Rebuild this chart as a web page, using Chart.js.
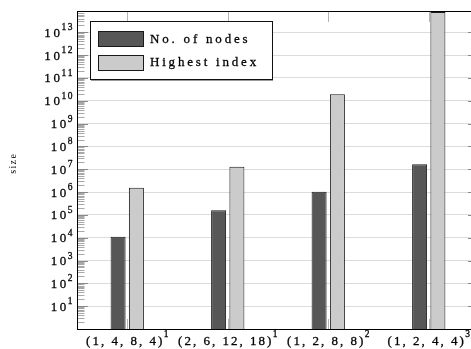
<!DOCTYPE html>
<html>
<head>
<meta charset="utf-8">
<script src="https://cdn.jsdelivr.net/npm/chart.js@4/dist/chart.umd.min.js"></script>
<style>
html,body{margin:0;padding:0;overflow:hidden;background:#fff;width:471px;height:349px}
#wrap{position:absolute;left:0;top:0;width:479px;height:349px}
</style>
</head>
<body>
<div id="wrap"><canvas id="c" width="479" height="349"></canvas></div>
<script>
// ---- data ----
const categories = ['(1, 4, 8, 4)', '(2, 6, 12, 18)', '(1, 2, 8, 8)', '(1, 2, 4, 4)'];
const categorySup = ['1', '1', '2', '3'];
const seriesNames = ['No. of nodes', 'Highest index'];
const nodes = [1.1e4, 1.6e5, 1.04e6, 1.65e7];
const highestIndex = [1.55e6, 1.3e7, 1.92e10, 7.8e13];
const yExponents = [1, 2, 3, 4, 5, 6, 7, 8, 9, 10, 11, 12, 13];
const yMin = 1;
const yMax = 7.8e13;
const yTitle = 'size';

const SERIF = '"Liberation Serif", "DejaVu Serif", serif';
const DARK = '#575757', LIGHT = '#cbcbcb', EDGE = '#1a1a1a';

function spacedWidth(ctx, s, sp) {
  let w = 0;
  for (const ch of s) w += ctx.measureText(ch).width + sp;
  return w - sp;
}
function spacedText(ctx, s, x, y, sp, align, bold) {
  const w = spacedWidth(ctx, s, sp);
  let cx = align === 'right' ? x - w : align === 'center' ? x - w / 2 : x;
  ctx.textAlign = 'left';
  ctx.strokeStyle = ctx.fillStyle;
  ctx.lineWidth = bold === undefined ? 0.28 : bold;
  for (const ch of s) {
    ctx.fillText(ch, cx, y);
    if (ctx.lineWidth > 0.01 && bold !== 0) ctx.strokeText(ch, cx, y);
    cx += ctx.measureText(ch).width + sp;
  }
  return w;
}

const decor = {
  id: 'decor',
  beforeDatasetsDraw(chart) {
    const {ctx, chartArea: a, scales: {x, y}} = chart;
    ctx.save();
    ctx.lineWidth = 1;
    // minor ticks
    ctx.strokeStyle = '#a8a8a8';
    ctx.beginPath();
    for (let e = 0; e <= 13; e++) {
      for (let k = 2; k <= 9; k++) {
        const v = k * Math.pow(10, e);
        if (v > yMax) break;
        const py = Math.round(y.getPixelForValue(v)) + 0.5;
        ctx.moveTo(a.left, py); ctx.lineTo(a.left + 7.5, py);
        ctx.moveTo(a.right, py); ctx.lineTo(a.right - 7.5, py);
      }
    }
    ctx.stroke();
    // major ticks
    ctx.strokeStyle = '#8a8a8a';
    ctx.beginPath();
    for (const e of yExponents) {
      const py = Math.round(y.getPixelForValue(Math.pow(10, e))) + 0.5;
      ctx.moveTo(a.left, py); ctx.lineTo(a.left + 11, py);
      ctx.moveTo(a.right, py); ctx.lineTo(a.right - 11, py);
    }
    ctx.stroke();
    // category ticks
    ctx.strokeStyle = '#b4b4b4';
    ctx.beginPath();
    categories.forEach((c, i) => {
      const px = Math.round(x.getPixelForValue(i)) + 0.5;
      ctx.moveTo(px, a.top); ctx.lineTo(px, a.top + 10);
      ctx.moveTo(px, a.bottom); ctx.lineTo(px, a.bottom - 10);
    });
    ctx.stroke();
    ctx.restore();
  },
  afterDatasetsDraw(chart) {
    const {ctx, chartArea: a, scales: {x, y}} = chart;
    ctx.save();
    // axis frame
    ctx.strokeStyle = '#000';
    ctx.lineWidth = 1;
    ctx.strokeRect(a.left + 0.5, a.top - 0.5, a.right - a.left - 1, a.bottom - a.top + 1);
    // y tick labels
    ctx.fillStyle = '#000';
    ctx.textBaseline = 'middle';
    for (const e of yExponents) {
      const py = y.getPixelForValue(Math.pow(10, e));
      ctx.font = '9.5px ' + SERIF;
      const ew = spacedText(ctx, String(e), 72.5, py - 4.5, 1.6, 'right');
      ctx.font = '13px ' + SERIF;
      spacedText(ctx, '10', 72.5 - ew - 1.5, py + 1, 2.6, 'right');
    }
    // x labels
    categories.forEach((c, i) => {
      const px = x.getPixelForValue(i);
      ctx.font = '13px ' + SERIF;
      const bw = spacedWidth(ctx, c, 2.0);
      ctx.font = '9.5px ' + SERIF;
      const sw = spacedWidth(ctx, categorySup[i], 0);
      const total = bw + 1.5 + sw;
      const x0 = px - total / 2;
      ctx.font = '13px ' + SERIF;
      spacedText(ctx, c, x0, 342, 2.0, 'left');
      ctx.font = '9.5px ' + SERIF;
      spacedText(ctx, categorySup[i], x0 + bw + 1.5, 334, 0, 'left');
    });
    // y title
    ctx.save();
    ctx.translate(13, 164);
    ctx.rotate(-Math.PI / 2);
    ctx.font = '10px ' + SERIF;
    spacedText(ctx, yTitle, 0, 0, 1.4, 'center', 0);
    ctx.restore();
    // legend
    ctx.fillStyle = '#fff';
    ctx.fillRect(90, 21, 182, 59);
    ctx.strokeStyle = '#9a9a9a';
    ctx.lineWidth = 1;
    ctx.beginPath(); ctx.moveTo(91, 80.5); ctx.lineTo(273, 80.5); ctx.stroke();
    ctx.strokeStyle = '#111';
    ctx.strokeRect(90.5, 21.5, 182, 58);
    const sw = [[DARK, 31.5], [LIGHT, 55.5]];
    sw.forEach(([col, top], i) => {
      ctx.fillStyle = col;
      ctx.lineWidth = 1;
      ctx.fillRect(98.5, top, 45, 15);
      ctx.strokeStyle = EDGE;
      ctx.strokeRect(98.5, top, 45, 15);
      ctx.fillStyle = '#000';
      ctx.font = '13px ' + SERIF;
      ctx.textBaseline = 'alphabetic';
      spacedText(ctx, seriesNames[i], 150, i === 0 ? 42.5 : 66, 2.8, 'left');
    });
    ctx.restore();
  }
};

new Chart(document.getElementById('c'), {
  type: 'bar',
  data: {
    labels: categories,
    datasets: [
      {label: seriesNames[0], data: nodes, backgroundColor: DARK, borderColor: EDGE, borderWidth: 1},
      {label: seriesNames[1], data: highestIndex, backgroundColor: LIGHT, borderColor: EDGE, borderWidth: 1}
    ]
  },
  options: {
    responsive: false,
    animation: false,
    devicePixelRatio: 1,
    layout: {padding: {left: 0, right: 0, top: 12, bottom: 0}},
    datasets: {bar: {categoryPercentage: 0.364, barPercentage: 0.82}},
    plugins: {legend: {display: false}, tooltip: {enabled: false}},
    scales: {
      x: {
        type: 'category',
        offset: true,
        grid: {display: false},
        border: {display: false},
        ticks: {display: false},
        afterFit(s) { s.height = 20; }
      },
      y: {
        type: 'logarithmic',
        min: yMin,
        max: yMax,
        grid: {color: '#dcdcdc', lineWidth: 1, drawTicks: false},
        border: {display: false},
        ticks: {display: false},
        afterBuildTicks(s) { s.ticks = [0].concat(yExponents).map(e => ({value: Math.pow(10, e)})); },
        afterFit(s) { s.width = 77; }
      }
    }
  },
  plugins: [decor]
});
</script>
</body>
</html>
